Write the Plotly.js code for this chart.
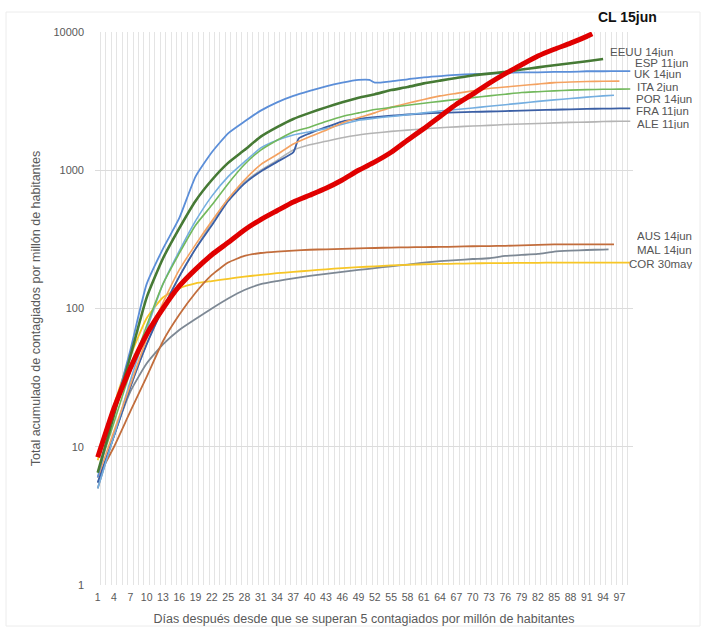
<!DOCTYPE html>
<html>
<head>
<meta charset="utf-8">
<script src="https://cdn.plot.ly/plotly-3.0.1.min.js"></script>
<style>html,body{margin:0;padding:0;background:#fff;}#chart{width:709px;height:630px;}</style>
</head>
<body>
<div id="chart"></div>
<script>
// ---- data ----
const xTickDays = [1,4,7,10,13,16,19,22,25,28,31,34,37,40,43,46,49,52,55,58,61,64,67,70,73,76,79,82,85,88,91,94,97];
const xTickLabels = xTickDays.map(String);
const yTickVals = [1,10,100,1000,10000];
const yTickLabels = ["1","10","100","1000","10000"];

const gridDays = [1,4,7,10,13,16,19,22,25,28,31,34,37,40,43,46,49,52,55,58,61,64,67,70,73,76,79,82,85,88,91,94,97,99];

const daysCL = [1,4,7,10,13,16,19,22,25,28,31,34,37,40,43,46,49,52,55,58,61,64,67,70,73,76,79,82,85,88,91,92];
const valCL  = [8.4,19,37,65,100,145,192,245,300,370,440,510,590,660,740,850,1000,1150,1350,1650,2000,2450,3000,3550,4250,5000,5800,6700,7500,8300,9300,9700];

const daysEEUU = [1,4,7,10,13,16,19,22,25,28,31,34,37,40,43,46,49,52,55,58,61,64,67,70,73,76,79,82,85,88,91,94];
const valEEUU  = [6.5,17,45,120,230,380,600,850,1130,1400,1750,2050,2350,2600,2850,3100,3350,3550,3800,4000,4250,4450,4650,4850,5000,5150,5350,5550,5750,5950,6150,6370];

const daysESP = [1,4,7,10,13,16,19,22,25,28,31,34,37,40,43,46,49,52,55,58,61,64,67,70,73,76,79,82,85,88,91,94,97];
const valESP  = [6,13,28,60,110,190,290,430,620,850,1100,1300,1550,1750,1950,2200,2400,2600,2850,3050,3250,3450,3600,3750,3900,4000,4100,4200,4300,4350,4380,4400,4410];

const daysUK = [1,4,7,10,13,16,19,22,25,28,31,34,37,40,43,46,49,51,52,55,58,61,64,67,70,73,76,79,82,85,88,91,94,97,99];
const valUK  = [6,18,50,150,270,450,900,1350,1850,2250,2700,3100,3450,3750,4050,4300,4500,4500,4300,4400,4550,4700,4800,4900,4950,5000,5050,5100,5100,5150,5150,5200,5200,5220,5220];

const daysITA = gridDays;
const valITA  = [6.5,15,35,75,150,250,400,560,800,1100,1400,1650,1900,2050,2250,2450,2600,2750,2850,2950,3050,3150,3250,3350,3450,3550,3650,3700,3750,3800,3830,3850,3860,3870];

const daysPOR = [1,4,7,10,13,16,19,22,25,28,31,34,37,40,43,46,49,52,55,58,61,64,67,70,73,76,79,82,85,88,91,94,96];
const valPOR  = [5,12,30,70,150,260,430,650,900,1150,1450,1650,1800,1900,2000,2150,2300,2380,2450,2520,2600,2680,2750,2820,2900,2980,3060,3150,3230,3300,3380,3450,3490];

const daysFRA = [1,4,7,10,13,16,19,22,25,28,31,34,37,38,40,43,46,49,52,55,58,61,64,67,70,73,76,79,82,85,88,91,94,97,99];
const valFRA  = [5.5,12,27,55,100,170,270,400,600,800,980,1150,1350,1700,1850,2050,2250,2350,2420,2480,2530,2570,2600,2620,2640,2660,2680,2700,2720,2740,2760,2780,2790,2800,2800];

const daysALE = gridDays;
const valALE  = [5.5,12,27,55,100,170,270,420,620,820,1000,1180,1400,1530,1620,1720,1800,1860,1910,1950,1990,2030,2060,2090,2110,2140,2160,2180,2200,2220,2230,2250,2260,2260];

const daysAUS = [1,4,7,10,13,16,19,22,25,28,31,34,37,40,43,46,49,52,55,58,61,64,67,70,73,76,79,82,85,88,91,94,96];
const valAUS  = [6,10,18,32,58,90,130,175,215,240,252,258,262,266,268,270,272,274,276,277,278,279,280,282,283,284,286,289,291,291,291,291,291];

const daysMAL = [1,4,7,10,13,16,19,22,25,28,31,34,37,40,43,46,49,52,55,58,61,64,67,70,73,76,79,82,85,88,91,94,95];
const valMAL  = [5,12,25,40,55,70,84,100,118,136,150,158,165,172,178,184,190,196,202,208,215,220,224,228,231,240,244,248,258,262,265,267,268];

const daysCOR = gridDays;
const valCOR  = [8,20,45,85,120,140,152,158,164,170,175,180,184,188,192,196,199,202,205,207,209,210,211,212,213,213,214,214,215,215,215,215,215,215];

// ---- styling ----
const series = [
  {name:"ALE 11jun",  x:daysALE,  y:valALE,  color:"#b4b4b4", w:1.6},
  {name:"MAL 14jun",  x:daysMAL,  y:valMAL,  color:"#7d8894", w:1.8},
  {name:"COR 30may",  x:daysCOR,  y:valCOR,  color:"#f7c626", w:1.8},
  {name:"AUS 14jun",  x:daysAUS,  y:valAUS,  color:"#c26d3c", w:1.8},
  {name:"FRA 11jun",  x:daysFRA,  y:valFRA,  color:"#3b5fa5", w:1.8},
  {name:"POR 14jun",  x:daysPOR,  y:valPOR,  color:"#74aee0", w:1.6},
  {name:"ESP 11jun",  x:daysESP,  y:valESP,  color:"#f4a261", w:1.6},
  {name:"ITA 2jun",   x:daysITA,  y:valITA,  color:"#72b85c", w:1.6},
  {name:"UK 14jun",   x:daysUK,   y:valUK,   color:"#5b8ed8", w:1.8},
  {name:"EEUU 14jun", x:daysEEUU, y:valEEUU, color:"#467a35", w:2.6},
  {name:"CL 15jun",   x:daysCL,   y:valCL,   color:"#e00000", w:5}
];

const traces = series.map(s => ({
  type:"scatter", mode:"lines", name:s.name, x:s.x, y:s.y,
  line:{color:s.color, width:s.w, shape:"spline", smoothing:0.5}, hoverinfo:"name+y"
}));

// plot area in pixels: x 95..633, y 32..585
const L=95, R=633, T=32, B=585;
const px = v => (v-L)/(R-L);
const py = v => (B-v)/(B-T);

const labelPos = [
  {t:"<b>CL 15jun</b>", x:597, y:17, size:14, color:"#111", h:16},
  {t:"EEUU 14jun", x:609, y:52},
  {t:"ESP 11jun",  x:634, y:63},
  {t:"UK 14jun",   x:633, y:74},
  {t:"ITA 2jun",   x:636, y:87},
  {t:"POR 14jun",  x:635, y:99},
  {t:"FRA 11jun",  x:635, y:111},
  {t:"ALE 11jun",  x:636, y:124},
  {t:"AUS 14jun",  x:636, y:236},
  {t:"MAL 14jun",  x:636, y:250},
  {t:"COR 30may",  x:628, y:264}
];
const annotations = labelPos.map(a => ({
  text:a.t, xref:"paper", yref:"paper", x:px(a.x), y:py(a.y),
  xanchor:"left", yanchor:"middle", showarrow:false, height:a.h||10, borderpad:0,
  font:{family:"Liberation Sans, Arial, sans-serif", size:a.size||11.5, color:a.color||"#555"}
}));

const layout = {
  width:709, height:630,
  margin:{l:L, r:709-R, t:T, b:630-B},
  paper_bgcolor:"#fff", plot_bgcolor:"#fff",
  showlegend:false,
  font:{family:"Liberation Sans, Arial, sans-serif", color:"#595959"},
  xaxis:{
    range:[0.5,99.5], tickmode:"array", tickvals:xTickDays, ticktext:xTickLabels,
    showgrid:false, zeroline:false, showline:false, ticks:"",
    ticklabelstandoff:4,
    tickfont:{size:10.5, color:"#595959"},
    minor:{tick0:0.5, dtick:1, showgrid:true, gridcolor:"#e4e4e4", gridwidth:1, ticks:""},
    title:{text:"Días después desde que se superan 5 contagiados por millón de habitantes", font:{size:12.5, color:"#595959"}, standoff:12}
  },
  yaxis:{
    type:"log", range:[0,4], tickmode:"array", tickvals:yTickVals, ticktext:yTickLabels,
    showgrid:true, gridcolor:"#dcdcdc", zeroline:false, showline:false, ticks:"",
    ticklabelstandoff:10,
    tickfont:{size:11, color:"#595959"},
    title:{text:"Total acumulado de contagiados por millón de habitantes", font:{size:12.5, color:"#595959"}, standoff:10}
  },
  annotations: annotations,
  shapes:[{type:"rect", xref:"paper", yref:"paper", x0:px(6), x1:px(700), y0:py(626), y1:py(12),
           line:{color:"#ececec", width:1}, fillcolor:"rgba(0,0,0,0)", layer:"below"}]
};

Plotly.newPlot("chart", traces, layout, {staticPlot:true, displayModeBar:false});
</script>
</body>
</html>
